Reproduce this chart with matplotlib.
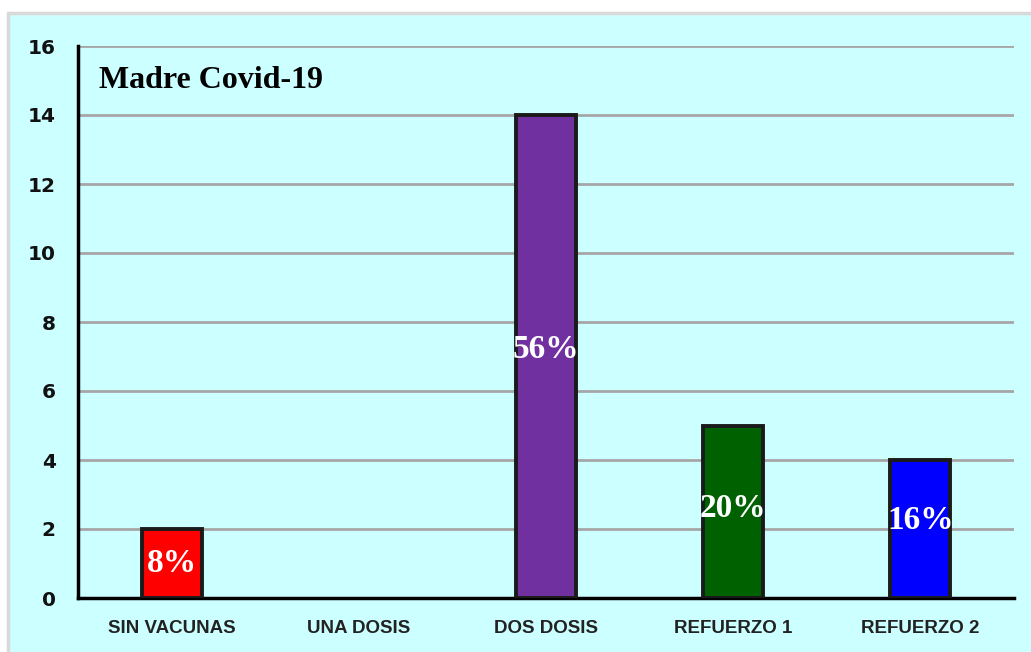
import matplotlib
matplotlib.use("Agg")
import matplotlib.pyplot as plt
from matplotlib.patches import Rectangle

# data
categories = ["SIN VACUNAS", "UNA DOSIS", "DOS DOSIS", "REFUERZO 1", "REFUERZO 2"]
counts = [2, 0, 14, 5, 4]
pct_labels = ["8%", "", "56%", "20%", "16%"]
label_y = [1.0, 0, 7.2, 2.6, 2.25]
bar_colors = ["#FF0000", "#FFFFFF", "#7030A0", "#006100", "#0000FF"]
y_ticks = [0, 2, 4, 6, 8, 10, 12, 14, 16]

fig = plt.figure(figsize=(10.31, 6.52), dpi=100)
fig.patch.set_facecolor("white")

# cyan chart area with light grey frame (top and left only visible)
bg = Rectangle((8 / 1031, -0.05), 1.1, 1.05 - 13 / 652, transform=fig.transFigure,
               facecolor="#CCFFFF", edgecolor="#D9D9D9", linewidth=2.5, zorder=-10)
fig.patches.append(bg)

ax = fig.add_axes([78 / 1031, 54 / 652, 936 / 1031, 552 / 652])
ax.set_facecolor("none")

x = range(len(categories))
bars = ax.bar(x, counts, width=0.32, color=bar_colors, edgecolor="#1A1A1A",
              linewidth=2.8, zorder=3)
bars[1].set_visible(False)

for i, (lab, yy) in enumerate(zip(pct_labels, label_y)):
    if lab:
        ax.text(i, yy, lab, ha="center", va="center", color="white",
                fontsize=24, fontweight="bold", family="Liberation Serif", zorder=4)

ax.set_xlim(-0.5, len(categories) - 0.5)
ax.set_ylim(0, 16)
ax.set_yticks(y_ticks)
ax.set_yticklabels([str(v) for v in y_ticks], fontsize=14.5, fontweight="bold",
                   family="DejaVu Sans", color="#111111")
ax.set_xticks(list(x))
ax.set_xticklabels(categories, fontsize=13.5, fontweight="bold",
                   family=["Liberation Sans Narrow", "Liberation Sans"], color="#222222")
ax.tick_params(axis="both", length=0)
ax.tick_params(axis="y", pad=16)
ax.tick_params(axis="x", pad=16)

ax.yaxis.grid(True, color="#A6A6A6", linewidth=2, zorder=1)
ax.set_axisbelow(True)
for s in ["top", "right"]:
    ax.spines[s].set_visible(False)
ax.spines["left"].set_linewidth(2.5)
ax.spines["bottom"].set_linewidth(2.5)
ax.spines["left"].set_color("black")
ax.spines["bottom"].set_color("black")

ax.text(0.022, 0.937, "Madre Covid-19", transform=ax.transAxes, ha="left", va="center",
        fontsize=23, fontweight="bold", family="Liberation Serif", color="black")

fig.savefig("out.png", dpi=100, facecolor=fig.get_facecolor())
